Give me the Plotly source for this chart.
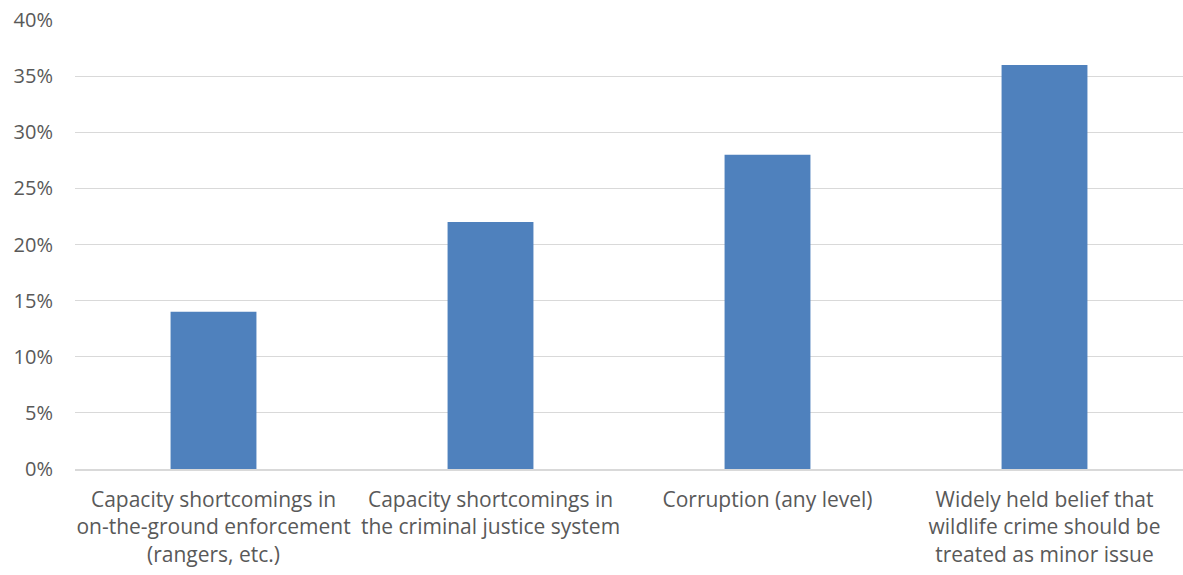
import plotly.graph_objects as go

categories = [
    "Capacity shortcomings in<br>on-the-ground enforcement<br>(rangers, etc.)",
    "Capacity shortcomings in<br>the criminal justice system",
    "Corruption (any level)",
    "Widely held belief that<br>wildlife crime should be<br>treated as minor issue",
]
values = [0.14, 0.22, 0.28, 0.36]
y_ticks = [0, 0.05, 0.10, 0.15, 0.20, 0.25, 0.30, 0.35, 0.40]

fig = go.Figure(go.Bar(
    x=categories, y=values,
    marker=dict(color="#4F81BD", line=dict(width=0)),
    width=0.31,
))
font_family = "'Open Sans', sans-serif"
fig.update_layout(
    width=1183, height=575,
    margin=dict(l=75, r=0, t=20, b=106),
    plot_bgcolor="white", paper_bgcolor="white",
    showlegend=False,
    font=dict(family=font_family, size=20, color="#595959"),
    bargap=0.69,
)
fig.update_xaxes(showgrid=False, showline=True, linecolor="#D9D9D9", linewidth=1.5,
                 ticks="", ticklabelstandoff=11, tickfont=dict(size=21, color="#595959"))
fig.update_yaxes(range=[0, 0.40], tickvals=y_ticks, tickformat=".0%",
                 showgrid=True, gridcolor="#D9D9D9", gridwidth=1.3,
                 zeroline=False, showline=False, ticks="", ticklabelstandoff=21,
                 tickfont=dict(size=20, color="#595959"))
fig.write_html("out.html")
